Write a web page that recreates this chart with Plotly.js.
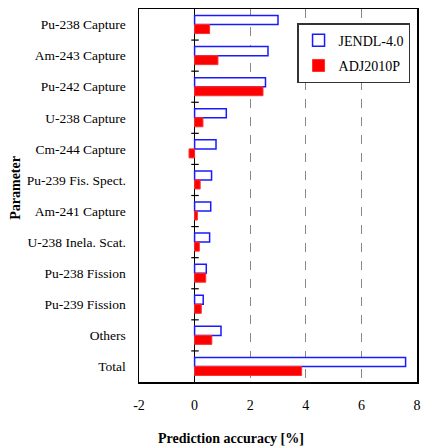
<!DOCTYPE html>
<html><head><meta charset="utf-8">
<script src="https://cdn.plot.ly/plotly-3.0.1.min.js"></script>
<style>body{margin:0;background:#fff}#c{width:427px;height:448px}</style>
</head><body><div id="c"></div>
<script>
const categories = ["Pu-238 Capture","Am-243 Capture","Pu-242 Capture","U-238 Capture","Cm-244 Capture","Pu-239 Fis. Spect.","Am-241 Capture","U-238 Inela. Scat.","Pu-238 Fission","Pu-239 Fission","Others","Total"];
const jendl = [3.00, 2.64, 2.55, 1.14, 0.77, 0.61, 0.58, 0.54, 0.42, 0.31, 0.95, 7.59];
const adj = [0.54, 0.84, 2.46, 0.30, -0.20, 0.20, 0.10, 0.17, 0.40, 0.24, 0.62, 3.85];
const xTicks = [-2, 0, 2, 4, 6, 8];

const serif = "Liberation Serif";
const traces = [
  {type:'bar', orientation:'h', name:'JENDL-4.0', legendgroup:'a', y:categories, x:jendl,
   marker:{color:'#ffffff', line:{color:'#1a1aff', width:1.5}}},
  {type:'bar', orientation:'h', name:'ADJ2010P', legendgroup:'b', y:categories, x:adj,
   marker:{color:'#ff0000', line:{color:'#ff3030', width:1}}}
];
const shapes = [];
for (let i = 0; i < categories.length - 1; i++) {
  shapes.push({type:'line', xref:'x', yref:'y', x0:-0.12, x1:0.15, y0:i+0.5, y1:i+0.5,
    line:{color:'#000', width:1.2}});
}
const layout = {
  width:427, height:448,
  margin:{l:139, r:10, t:9, b:66},
  paper_bgcolor:'#fff', plot_bgcolor:'#fff',
  barmode:'group', bargap:0.42, bargroupgap:0,
  font:{family:serif, size:14, color:'#000'},
  showlegend:true,
  legend:{x:0.975, xanchor:'right', y:0.962, yanchor:'top', bgcolor:'#fff',
    bordercolor:'#333', borderwidth:1.5, font:{family:serif, size:14, color:'#000'},
    traceorder:'grouped', tracegroupgap:4, itemwidth:30},
  xaxis:{range:[-2, 8], tickvals:xTicks, ticktext:xTicks.map(String),
    showgrid:true, gridcolor:'#888', griddash:'dash', gridwidth:1,
    zeroline:true, zerolinecolor:'#000', zerolinewidth:1.5,
    showline:true, mirror:true, linecolor:'#000', linewidth:1.5,
    ticks:'', ticklabelstandoff:10, tickfont:{family:serif, size:14}},
  yaxis:{autorange:'reversed', type:'category', showgrid:false, zeroline:false,
    showline:true, mirror:true, linecolor:'#000', linewidth:1.5,
    ticks:'', ticklabelstandoff:9, tickfont:{family:serif, size:13.5}},
  annotations:[
    {text:'<b>Prediction accuracy [%]</b>', xref:'paper', yref:'paper', x:0.33, y:-0.152,
     xanchor:'center', yanchor:'middle', showarrow:false, font:{family:serif, size:14}},
    {text:'<b>Parameter</b>', xref:'paper', yref:'paper', x:-0.447, y:0.52, textangle:-90,
     xanchor:'center', yanchor:'middle', showarrow:false, font:{family:serif, size:14}}
  ],
  shapes:shapes
};
Plotly.newPlot('c', traces, layout, {displayModeBar:false, staticPlot:true});
</script></body></html>
